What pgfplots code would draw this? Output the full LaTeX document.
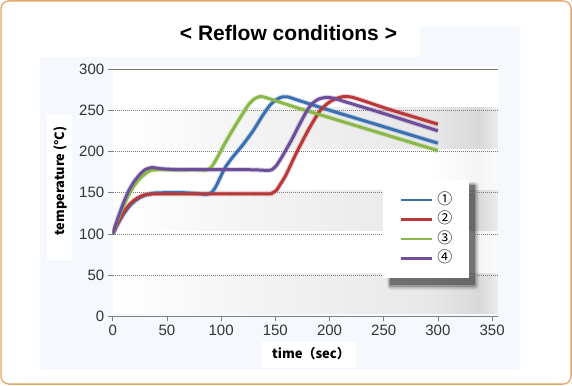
\documentclass[border=0pt]{standalone}
\usepackage{fontspec}
\setmainfont{Liberation Sans}
\newfontfamily\jp{Noto Sans CJK JP}
\usepackage{pgfplots}
\usepackage{pgfplotstable}
\pgfplotsset{compat=1.18}

\definecolor{cA}{RGB}{58,112,178}
\definecolor{cB}{RGB}{186,56,56}
\definecolor{cC}{RGB}{137,184,72}
\definecolor{cD}{RGB}{108,78,155}
\definecolor{panel}{RGB}{245,248,253}
\definecolor{frame}{RGB}{230,165,105}

\pgfdeclarehorizontalshading{grayband}{100bp}{color(0bp)=(white); color(25bp)=(white); color(45bp)=(black!5); color(66bp)=(black!9); color(72.5bp)=(black!15); color(74bp)=(black!11); color(75bp)=(black!7); color(100bp)=(black!7)}
\pgfdeclarehorizontalshading{whiteband}{100bp}{color(0bp)=(white); color(25bp)=(white); color(66bp)=(white); color(72.5bp)=(black!4); color(75bp)=(black!2); color(100bp)=(black!2)}

\pgfplotstableread{
t T
0 100
5 113
10 124
15 133
20 139.5
25 144
30 147
38 149.5
50 150
65 150
78 149
86 148
91 150
95 157
99 168
104 181
110 192
120 208
130 226
138 243
145 256
150 262
156 266
162 266
170 262.5
200 250
250 230
300 210
}\seriesA

\pgfplotstableread{
t T
0 100
5 114
10 126
15 135
20 141
25 145
30 147.5
38 148.5
60 148.5
100 148.5
143 148.5
147 149.5
151 153
155 161
160 172
169 197
180 225
191 249
199 259
206 264
213 266.5
220 266
230 262
255 251
280 241
300 233
}\seriesB

\pgfplotstableread{
t T
0 100
5 118
10 134
15 148
20 159
25 167
30 173
35 177
45 178
60 177.5
75 178
86 177.5
91 181
97 194
104 211
112 229
120 246
126 258
131 264
136 266.5
142 265
170 253
200 241
250 221
300 201
}\seriesC

\pgfplotstableread{
t T
0 100
5 120
10 138
15 153
20 164
25 172
30 178
36 180.5
45 179
60 178
80 178
100 178
120 178
135 177.5
143 177
147 178
151 183
155 191
159 200
165 214
172 232
179 249
184 258
190 263.5
197 265.5
204 264.5
215 260
250 246
300 225
}\seriesD

\begin{document}
\begin{tikzpicture}[x=1pt,y=1pt]
\useasboundingbox (0,0) rectangle (572,385);
% outer frame
\fill[white] (1,1) rectangle (571,384);
% panel
\fill[panel] (40,15) rectangle (520,328);
\fill[panel] (420,328) rectangle (520,358);
% plot area bands (axis box: x 113..497.8, y 71.6..319)
\fill[white] (113,71.6) rectangle (497.8,319);
\shade[shading=grayband] (113,71.6) rectangle (497.8,112.83);
\shade[shading=whiteband] (113,112.83) rectangle (497.8,154.07);
\shade[shading=grayband] (113,154.07) rectangle (497.8,195.3);
\shade[shading=whiteband] (113,195.3) rectangle (497.8,236.53);
\shade[shading=grayband] (113,236.53) rectangle (497.8,277.77);
% legend shadow (legend box x 383..471, y 104..208)
\fill[black, opacity=0.08, rounded corners=4pt] (387,95) rectangle (479,203);
\fill[black, opacity=0.12, rounded corners=3pt] (388,96.5) rectangle (477.5,202);
\fill[black, opacity=0.18, rounded corners=2pt] (389,98) rectangle (476,201);
\fill[black, opacity=0.28] (390,99.5) rectangle (474.5,200);
% label boxes
\fill[white] (47,125) rectangle (72,270);
\fill[white] (262,17) rectangle (356,43);
\draw[frame, line width=1.3pt, rounded corners=8pt] (0.9,0.9) rectangle (571.1,384.1);

\begin{axis}[
  at={(104,83.2)}, anchor=south west,
  scale only axis, width=384.8pt, height=247.4pt,
  xmin=0, xmax=355, ymin=0, ymax=300,
  axis x line*=bottom, axis y line*=left,
  y axis line style={draw=none},
  x axis line style={black!50, line width=0.9pt},
  xtick={0,50,...,350}, ytick={0,50,...,300},
  tick align=outside, major tick length=5pt,
  tick style={black!50, line width=0.8pt},
  ymajorgrids,
  major grid style={black!50, line width=0.8pt, dash pattern=on 0.9pt off 1.1pt},
  /pgf/number format/assume math mode=true,
  tick label style={font=\fontsize{15}{15}\selectfont, text=black!80},
  legend style={at={(axis cs:249,165.7)}, anchor=north west, draw=none, fill=white,
    inner xsep=17pt, inner ysep=12.5pt, row sep=4.5pt,
    nodes={inner sep=0pt, text height=12pt, text depth=3pt, font=\jp\fontsize{15}{15}\selectfont}},
  /tikz/every odd column/.append style={column sep=4pt},
  legend cell align=left,
  legend image code/.code={\draw[#1, line width=2.6pt] (0pt,0pt) -- (31pt,0pt);},
]
\draw[black!55, line width=0.9pt] (axis cs:0,300) -- (axis cs:355,300);
\addplot[cA!70, opacity=0.35, line width=5pt, smooth, tension=0.4, forget plot] table {\seriesA};
\addplot[cB!70, opacity=0.35, line width=5pt, smooth, tension=0.4, forget plot] table {\seriesB};
\addplot[cC!70, opacity=0.35, line width=5pt, smooth, tension=0.4, forget plot] table {\seriesC};
\addplot[cD!70, opacity=0.35, line width=5pt, smooth, tension=0.4, forget plot] table {\seriesD};
\addplot[cA, line width=3pt, smooth, tension=0.4] table {\seriesA};
\addplot[cB, line width=3pt, smooth, tension=0.4] table {\seriesB};
\addplot[cC, line width=3pt, smooth, tension=0.4] table {\seriesC};
\addplot[cD, line width=3pt, smooth, tension=0.4] table {\seriesD};
\legend{①,②,③,④}
\end{axis}

\node[font=\bfseries\fontsize{21}{21}\selectfont] at (288.5,352) {< Reflow conditions >};
\node[rotate=90, font=\jp\bfseries\fontsize{12.8}{12.8}\selectfont] at (60,204) {temperature (°C)};
\node[font=\jp\bfseries\fontsize{13}{13}\selectfont] at (311,31) {time（sec）};
\end{tikzpicture}
\end{document}
